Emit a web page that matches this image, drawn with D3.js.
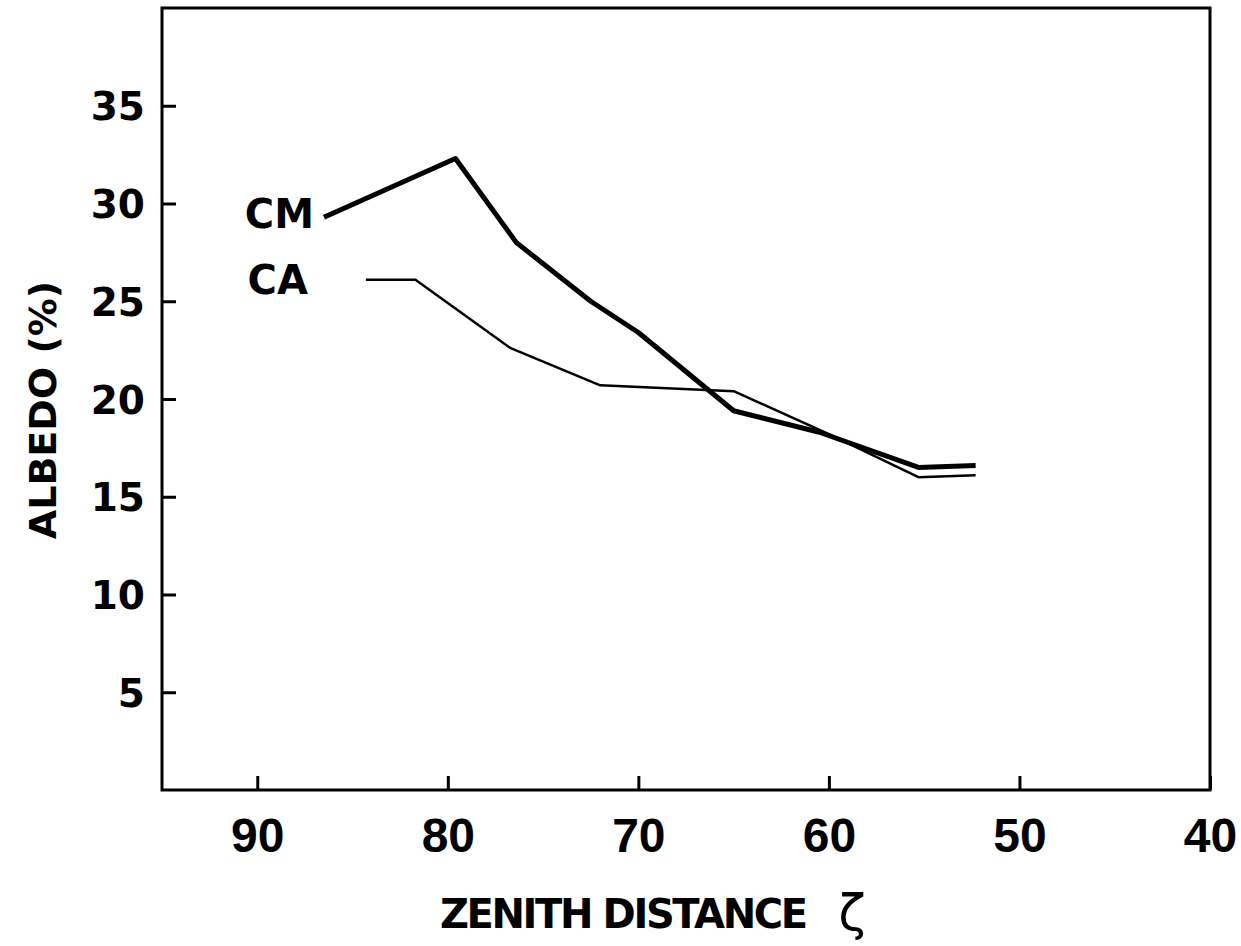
<!DOCTYPE html>
<html>
<head>
<meta charset="utf-8">
<script src="https://cdn.jsdelivr.net/npm/d3@7"></script>
<style>
  body { margin: 0; background: #fff; }
  text { font-family: "DejaVu Sans", sans-serif; font-weight: bold; fill: #000; }
</style>
</head>
<body>
<div id="chart-area"></div>
<script>
// data
var xTicks = [90, 80, 70, 60, 50, 40];
var yTicks = [5, 10, 15, 20, 25, 30, 35];

var cmZenith = [86.5, 79.6, 76.4, 72.5, 70, 65, 60.5, 55.3, 52.3];
var cmAlbedo = [29.3, 32.3, 28.0, 25.0, 23.4, 19.4, 18.3, 16.5, 16.6];

var caZenith = [84.3, 81.7, 76.7, 72, 65, 60, 55.3, 52.3];
var caAlbedo = [26.1, 26.1, 22.6, 20.7, 20.4, 18.2, 16.0, 16.1];

var margin = {left: 162, right: 31, top: 8, bottom: 156};
var width = 1241 - margin.left - margin.right,
    height = 946 - margin.top - margin.bottom;

var svg = d3.select("#chart-area")
    .append("svg")
    .attr("width", 1241)
    .attr("height", 946);

var g = svg.append("g")
    .attr("transform", "translate(" + margin.left + "," + margin.top + ")");

// zenith distance decreases to the right
var x = d3.scaleLinear()
    .domain([95, 40])
    .range([0, width]);

var y = d3.scaleLinear()
    .domain([0, 40])
    .range([height, 0]);

// frame
g.append("rect")
    .attr("x", 0)
    .attr("y", 0)
    .attr("width", width)
    .attr("height", height)
    .attr("fill", "none")
    .attr("stroke", "#000")
    .attr("stroke-width", 3);

// x axis, ticks pointing inward
var xAxis = g.append("g")
    .attr("transform", "translate(0," + height + ")")
    .call(d3.axisBottom(x).tickValues(xTicks).tickSizeInner(-14).tickSizeOuter(0).tickPadding(28));
xAxis.select(".domain").remove();
xAxis.selectAll("line").attr("stroke", "#000").attr("stroke-width", 3);
xAxis.selectAll("text")
    .attr("fill", "#000")
    .style("font-family", "'Liberation Sans', Arial, sans-serif")
    .style("font-size", "48px")
    .attr("dy", "0.71em");

// y axis
var yAxis = g.append("g")
    .call(d3.axisLeft(y).tickValues(yTicks).tickSizeInner(-14).tickSizeOuter(0).tickPadding(17));
yAxis.select(".domain").remove();
yAxis.selectAll("line").attr("stroke", "#000").attr("stroke-width", 3);
yAxis.selectAll("text")
    .attr("fill", "#000")
    .style("font-size", "39px")
    .attr("dy", "0.36em");

// axis titles
svg.append("text")
    .attr("x", 440)
    .attr("y", 928)
    .style("font-size", "40px")
    .attr("textLength", 368)
    .text("ZENITH DISTANCE");

svg.append("text")
    .attr("x", 852)
    .attr("y", 930)
    .attr("text-anchor", "middle")
    .style("font-size", "50px")
    .style("font-weight", "normal")
    .text("ζ");

svg.append("text")
    .attr("transform", "translate(56,410) rotate(-90)")
    .attr("text-anchor", "middle")
    .style("font-size", "38px")
    .text("ALBEDO (%)");

// the two curves
var line = d3.line()
    .x(function (d) { return x(d[0]); })
    .y(function (d) { return y(d[1]); });

var cm = d3.zip(cmZenith, cmAlbedo);
var ca = d3.zip(caZenith, caAlbedo);

g.append("path")
    .datum(ca)
    .attr("d", line)
    .attr("fill", "none")
    .attr("stroke", "#000")
    .attr("stroke-width", 2.5)
    .attr("stroke-linejoin", "round");

g.append("path")
    .datum(cm)
    .attr("d", line)
    .attr("fill", "none")
    .attr("stroke", "#000")
    .attr("stroke-width", 5)
    .attr("stroke-linejoin", "round");

// curve labels
g.append("text")
    .attr("x", x(cmZenith[0]) - 10)
    .attr("y", y(cmAlbedo[0]) - 4)
    .attr("dy", "0.36em")
    .attr("text-anchor", "end")
    .style("font-size", "40px")
    .text("CM");

g.append("text")
    .attr("x", x(caZenith[0]) - 58)
    .attr("y", y(caAlbedo[0]))
    .attr("dy", "0.36em")
    .attr("text-anchor", "end")
    .style("font-size", "40px")
    .text("CA");
</script>
</body>
</html>
